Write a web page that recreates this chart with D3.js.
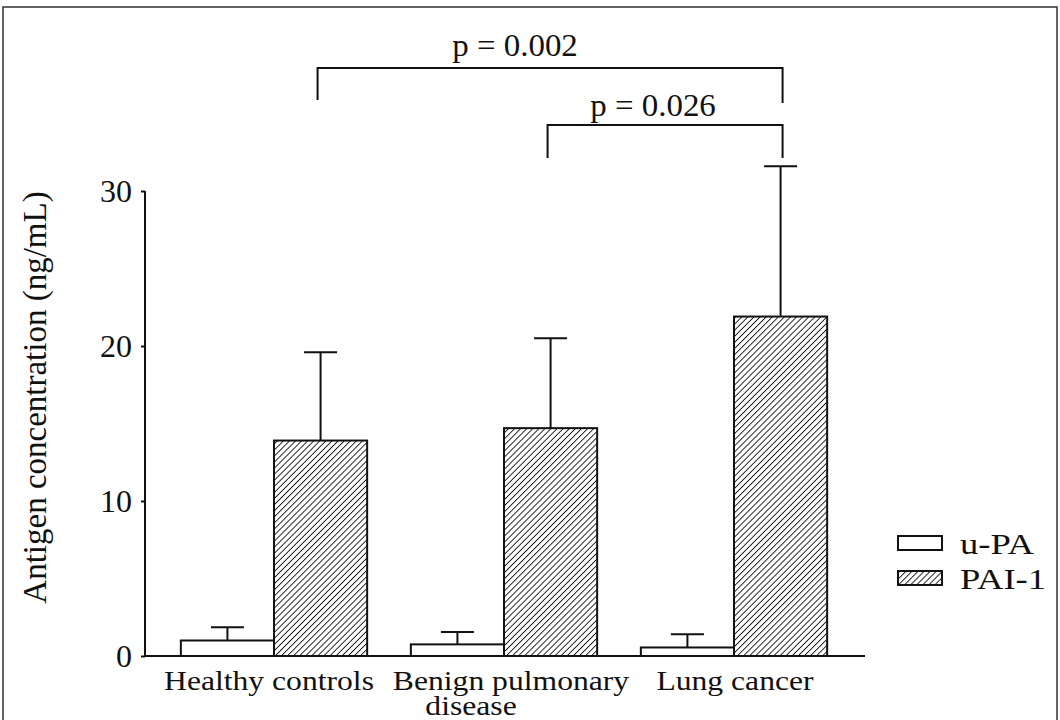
<!DOCTYPE html>
<html>
<head>
<meta charset="utf-8">
<script src="https://cdn.jsdelivr.net/npm/d3@7/dist/d3.min.js"></script>
<style>
  html, body { margin: 0; padding: 0; background: #fff; }
  svg text { font-family: "Liberation Serif", "Times New Roman", serif; fill: #111; }
</style>
</head>
<body>
<svg id="chart" width="1060" height="720"></svg>
<script>
// ---- data ----
const categories = ["Healthy controls", "Benign pulmonary disease", "Lung cancer"];
const categoryLines = [["Healthy controls"], ["Benign pulmonary", "disease"], ["Lung cancer"]];
const seriesNames = ["u-PA", "PAI-1"];
const upaMean = [1.0, 0.75, 0.55];
const upaErrTop = [1.85, 1.55, 1.4];
const pai1Mean = [13.9, 14.7, 21.9];
const pai1ErrTop = [19.6, 20.5, 31.6];
const yTicks = [0, 10, 20, 30];
const comparisons = [
  { from: 0, to: 2, label: "p = 0.002" },
  { from: 1, to: 2, label: "p = 0.026" }
];

const svg = d3.select("#chart");

// stretched text helper (scanned original has slightly wide lettering)
function stext(parent, x, y, str, size, sx, anchor) {
  return parent.append("text")
    .attr("transform", `translate(${x},${y}) scale(${sx},1)`)
    .attr("text-anchor", anchor || "middle")
    .attr("font-size", size)
    .text(str);
}

// pattern for hatched bars
const defs = svg.append("defs");
const pat = defs.append("pattern")
  .attr("id", "hatch")
  .attr("patternUnits", "userSpaceOnUse")
  .attr("width", 4.3).attr("height", 4.3)
  .attr("patternTransform", "rotate(45)");
pat.append("rect").attr("width", 4.3).attr("height", 4.3).attr("fill", "#fff");
pat.append("line").attr("x1", 0).attr("y1", 0).attr("x2", 0).attr("y2", 4.3)
  .attr("stroke", "#111").attr("stroke-width", 1.8);

// frame
svg.append("rect").attr("x", 3).attr("y", 7).attr("width", 1054).attr("height", 730)
  .attr("fill", "none").attr("stroke", "#333").attr("stroke-width", 1.5);

// scales
const y = d3.scaleLinear().domain([0, 30]).range([656, 191]);
const x0 = d3.scaleBand().domain(categories).range([159, 849]).paddingInner(0.19).paddingOuter(0.095);
const x1 = d3.scaleBand().domain(seriesNames).range([0, x0.bandwidth()]);

const rows = categories.map((c, i) => ({
  cat: c,
  vals: [
    { s: "u-PA", v: upaMean[i], e: upaErrTop[i] },
    { s: "PAI-1", v: pai1Mean[i], e: pai1ErrTop[i] }
  ]
}));

// error bars
const capW = 33;
const g = svg.append("g");
rows.forEach(r => {
  r.vals.forEach(d => {
    const cx = x0(r.cat) + x1(d.s) + x1.bandwidth() / 2;
    g.append("line").attr("x1", cx).attr("x2", cx).attr("y1", y(d.v)).attr("y2", y(d.e))
      .attr("stroke", "#111").attr("stroke-width", 2);
    g.append("line").attr("x1", cx - capW / 2).attr("x2", cx + capW / 2).attr("y1", y(d.e)).attr("y2", y(d.e))
      .attr("stroke", "#111").attr("stroke-width", 2);
  });
});

// bars
rows.forEach(r => {
  g.selectAll(null).data(r.vals).enter().append("rect")
    .attr("x", d => x0(r.cat) + x1(d.s))
    .attr("y", d => y(d.v))
    .attr("width", x1.bandwidth())
    .attr("height", d => y(0) - y(d.v))
    .attr("fill", d => d.s === "PAI-1" ? "url(#hatch)" : "#fff")
    .attr("stroke", "#111").attr("stroke-width", 2);
});

// y axis
const yAxis = d3.axisLeft(y).tickValues(yTicks).tickSize(4).tickPadding(9).tickFormat(d3.format("d"));
const ya = svg.append("g").attr("transform", "translate(145,0)").call(yAxis);
ya.select(".domain").attr("stroke", "#111").attr("stroke-width", 2).attr("d", `M-0,${y(0)}V${y(30)}`);
ya.selectAll(".tick line").attr("stroke", "#111").attr("stroke-width", 2);
ya.selectAll(".tick text").attr("font-size", 32).attr("font-family", "Liberation Serif").attr("fill", "#111");

// x axis baseline
svg.append("line").attr("x1", 145).attr("x2", 865).attr("y1", y(0)).attr("y2", y(0))
  .attr("stroke", "#111").attr("stroke-width", 2);

// category labels
const labelOffsets = [-5, 7, 1];
categories.forEach((c, i) => {
  const cx = x0(c) + x0.bandwidth() / 2 + labelOffsets[i];
  categoryLines[i].forEach((ln, j) => {
    const lx = j === 0 ? cx : cx - 40;
    stext(svg, lx, y(0) + 34 + j * 25, ln, 28, 1.13);
  });
});

// y label
svg.append("text").attr("transform", `translate(46,${(y(0) + y(30)) / 2 - 26}) rotate(-90)`)
  .attr("text-anchor", "middle").attr("font-size", 33).text("Antigen concentration (ng/mL)");

// comparison brackets
const paiCenter = i => x0(categories[i]) + x1("PAI-1") + x1.bandwidth() / 2;
const brackets = [
  { top: 68, leftDrop: 100, rightDrop: 103, textY: 56, textX: 515 },
  { top: 125, leftDrop: 158, rightDrop: 158, textY: 116, textX: 653 }
];
comparisons.forEach((c, k) => {
  const b = brackets[k];
  const xl = paiCenter(c.from) - 3, xr = paiCenter(c.to) + 2;
  svg.append("path")
    .attr("d", `M${xl},${b.leftDrop}V${b.top}H${xr}V${b.rightDrop}`)
    .attr("fill", "none").attr("stroke", "#111").attr("stroke-width", 2);
  stext(svg, b.textX, b.textY, c.label, 32, 1.03);
});

// legend
const legend = svg.append("g").attr("transform", "translate(898,536)");
seriesNames.forEach((s, i) => {
  const gy = i * 35;
  legend.append("rect").attr("x", 0).attr("y", gy).attr("width", 44).attr("height", 14)
    .attr("fill", s === "PAI-1" ? "url(#hatch)" : "#fff")
    .attr("stroke", "#111").attr("stroke-width", 2);
  stext(legend, 62, gy + 18, s, 30, 1.22, "start");
});
</script>
</body>
</html>
